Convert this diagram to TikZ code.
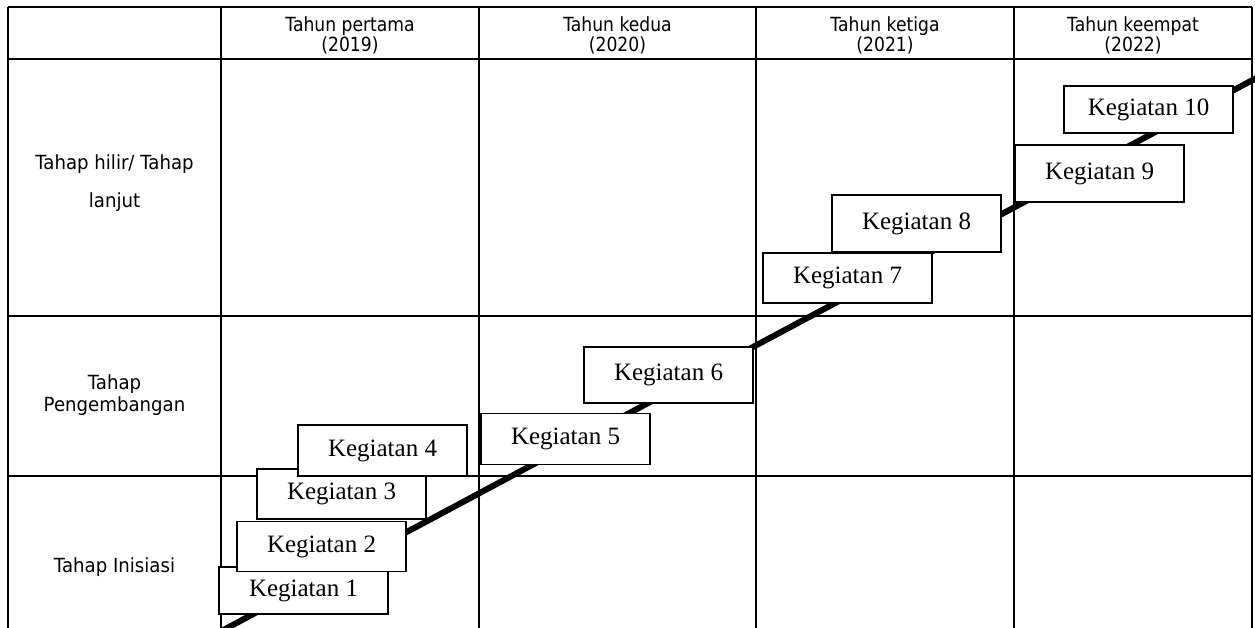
\documentclass[tikz,border=0pt]{standalone}
\usepackage{fontspec}
\setmainfont{Liberation Serif}
\newfontfamily\tahfont[FakeStretch=0.88]{DejaVu Sans}
\newfontfamily\rowfont[FakeStretch=0.93]{DejaVu Sans}
\begin{document}
\begin{tikzpicture}[x=1pt,y=-1pt,
  grid/.style={line width=2pt,black},
  hdr/.style={align=center,inner sep=0pt,font=\tahfont\fontsize{19.5}{20}\selectfont},
  rowlbl/.style={align=center,inner sep=0pt,font=\rowfont\fontsize{19.5}{22}\selectfont},
  kbox/.style={draw=black,line width=1.2pt,fill=white,minimum width=169pt,minimum height=50pt,inner sep=0pt,font=\fontsize{25}{30}\selectfont},
  trend/.style={line width=6pt,black}]
\useasboundingbox (0,0) rectangle (1255,627);
\begin{scope}
\clip (0,0) rectangle (1255,627);
% grid
\draw[grid] (8,7) -- (1252,7);
\draw[grid] (8,59) -- (1252,59);
\draw[grid] (8,316) -- (1252,316);
\draw[grid] (8,476) -- (1252,476);
\foreach \x in {8,221,479,756,1014,1252} \draw[grid] (\x,7) -- (\x,630);
% headers
\node[hdr] (h1) at (350,35.5) {Tahun pertama\\(2019)};
\node[hdr] (h2) at (617.5,35.5) {Tahun kedua\\(2020)};
\node[hdr] (h3) at (885,35.5) {Tahun ketiga\\(2021)};
\node[hdr] (h4) at (1133,35.5) {Tahun keempat\\(2022)};
% row labels
\node[rowlbl,font=\rowfont\fontsize{19.5}{38}\selectfont] (r1) at (114.5,183) {Tahap hilir/ Tahap\\lanjut};
\node[rowlbl] (r2) at (114.5,395) {Tahap\\Pengembangan};
\node[rowlbl] (r3) at (114.5,567) {Tahap Inisiasi};
% trend line
\coordinate (ls) at (214,635);
\coordinate (le) at (1262,75);
\draw[trend] (ls) -- (le);
% activity boxes
\node[kbox,minimum height=47pt] (k1) at (303.5,590.5) {Kegiatan 1};
\node[kbox] (k2) at (321.5,546.5) {Kegiatan 2};
\node[kbox] (k3) at (341.5,494) {Kegiatan 3};
\node[kbox,minimum height=51pt] (k4) at (382.5,450.5) {Kegiatan 4};
\node[kbox,minimum height=51pt] (k5) at (565.5,439) {Kegiatan 5};
\node[kbox,minimum height=56pt] (k6) at (668.5,375) {Kegiatan 6};
\node[kbox] (k7) at (847.5,278) {Kegiatan 7};
\node[kbox,minimum height=57pt] (k8) at (916.5,223.5) {Kegiatan 8};
\node[kbox,minimum height=57pt] (k9) at (1099.5,173.5) {Kegiatan 9};
\node[kbox,minimum height=47pt] (k10) at (1148.5,109.5) {Kegiatan 10};
\end{scope}
\end{tikzpicture}
\end{document}
